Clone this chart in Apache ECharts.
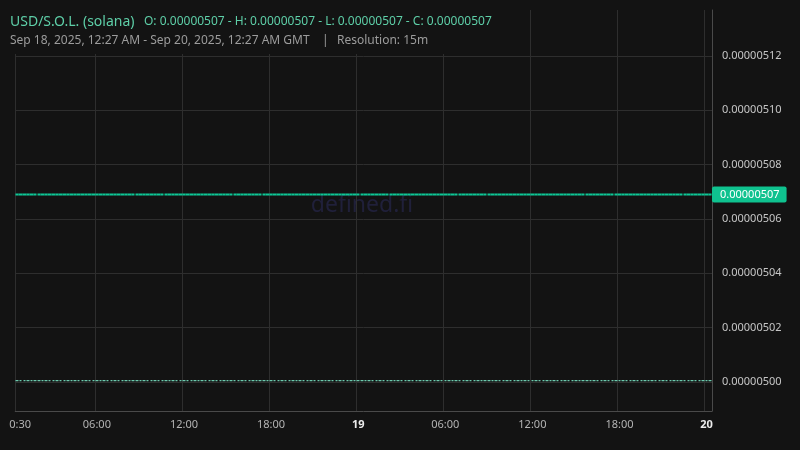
<!doctype html>
<html>
  <head>
    <meta charset="utf-8">
    <title>USD/S.O.L. (solana)</title>
    <script src="https://cdn.jsdelivr.net/npm/echarts@6/dist/echarts.min.js"></script>
    <style>
      html, body { margin: 0; padding: 0; background: #131313; }
      #chart { width: 800px; height: 450px; }
    </style>
  </head>
  <body>
    <div id="chart"></div>

    <script type="text/javascript">
      // prices are in units of 1e-8 (0.00000507 -> 507)
      var startTime = Date.UTC(2025, 8, 18, 0, 30);

      // 15m candles, Sep 18 00:30 -> Sep 20 00:15 (all flat)
      var priceRow = [506.9, 506.9, 506.9, 506.9, 506.9, 506.9, 506.9, 506.9,
                      506.9, 506.9, 506.9, 506.9, 506.9, 506.9, 506.9, 506.9];
      var lowRow = [500.05, 500.05, 500.05, 500.05, 500.05, 500.05, 500.05, 500.05,
                    500.05, 500.05, 500.05, 500.05, 500.05, 500.05, 500.05, 500.05];
      var priceCandles = [].concat(priceRow, priceRow, priceRow, priceRow, priceRow, priceRow,
                                   priceRow, priceRow, priceRow, priceRow, priceRow, priceRow);
      var lowCandles = [].concat(lowRow, lowRow, lowRow, lowRow, lowRow, lowRow,
                                 lowRow, lowRow, lowRow, lowRow, lowRow, lowRow);
      var lastClose = 506.9;

      var tickIndex = [0, 22, 46, 70, 94, 118, 142, 166, 190];
      var tickLabels = ['00:30', '06:00', '12:00', '18:00', '19', '06:00', '12:00', '18:00', '20'];
      var dayLabels = ['19', '20'];

      var categories = [];
      for (var i = 0; i < priceCandles.length; i++) {
        categories.push(new Date(startTime + i * 15 * 60000).toISOString());
      }

      function toOhlc(arr) {
        return arr.map(function (v) { return [v, v, v, v]; });
      }

      function isTick(idx) { return tickIndex.indexOf(idx) >= 0; }

      var bg = '#131313';
      var up = '#0ec796';
      var low = '#6cc9ad';
      var font = 'Noto Sans';

      var myChart = echarts.init(document.getElementById('chart'));
      var option = {
        backgroundColor: bg,
        animation: false,
        textStyle: { fontFamily: font },
        grid: { left: 12, right: 88, top: 10, bottom: 39 },
        xAxis: {
          type: 'category',
          data: categories,
          boundaryGap: true,
          axisLine: { onZero: false, lineStyle: { color: '#4a4a4a', width: 1 } },
          axisTick: { show: false },
          axisLabel: {
            interval: function (idx) { return isTick(idx); },
            margin: 8,
            color: '#b4b4b4',
            fontSize: 11,
            formatter: function (v, idx) {
              var k = tickIndex.indexOf(idx);
              if (k < 0) return '';
              var t = tickLabels[k];
              return dayLabels.indexOf(t) >= 0 ? '{d|' + t + '}' : t;
            },
            rich: { d: { color: '#ececec', fontWeight: 'bold', fontSize: 11 } }
          },
          splitLine: {
            show: true,
            interval: function (idx) { return isTick(idx); },
            lineStyle: { color: '#2e2e2e', width: 1 }
          }
        },
        yAxis: {
          type: 'value',
          position: 'right',
          scale: true,
          min: 498.93,
          max: 513.69,
          splitNumber: 7,
          axisLine: { show: true, lineStyle: { color: '#4a4a4a', width: 1 } },
          axisTick: { show: false },
          axisLabel: {
            margin: 10,
            color: '#c6c6c6',
            fontSize: 11,
            showMinLabel: false,
            showMaxLabel: false,
            formatter: function (v) { return (v / 1e8).toFixed(8); }
          },
          splitLine: {
            show: true,
            showMinLine: false,
            showMaxLine: false,
            lineStyle: { color: '#2e2e2e', width: 1 }
          }
        },
        graphic: [
          { type: 'text', x: 362, y: 194, silent: true, z: 0,
            style: { text: 'defined.fi', fill: '#20203a', font: '23px "Noto Sans"', textAlign: 'center' } },
          { type: 'rect', shape: { x: 0, y: 0, width: 497, height: 54 }, style: { fill: bg }, z: 90 },
          { type: 'rect', shape: { x: 0, y: 412, width: 9, height: 30 }, style: { fill: bg }, z: 90 },
          { type: 'text', x: 10, y: 15, z: 100,
            style: { text: 'USD/S.O.L. (solana)', fill: '#5ecfa8', font: '14px "Noto Sans"' } },
          { type: 'text', x: 144, y: 16, z: 100,
            style: { text: 'O: 0.00000507 - H: 0.00000507 - L: 0.00000507 - C: 0.00000507', fill: '#5ecfa8', font: '12px "Noto Sans"' } },
          { type: 'text', x: 10, y: 35, z: 100,
            style: { text: 'Sep 18, 2025, 12:27 AM - Sep 20, 2025, 12:27 AM GMT', fill: '#9c9c9c', font: '12px "Noto Sans"' } },
          { type: 'text', x: 322, y: 35, z: 100,
            style: { text: '|', fill: '#9c9c9c', font: '12px "Noto Sans"' } },
          { type: 'text', x: 337, y: 35, z: 100,
            style: { text: 'Resolution: 15m', fill: '#9c9c9c', font: '12px "Noto Sans"' } }
        ],
        series: [
          {
            name: 'low',
            type: 'candlestick',
            data: toOhlc(lowCandles),
            barWidth: '80%',
            itemStyle: {
              color: low, color0: low, borderColor: low, borderColor0: low,
              borderColorDoji: low, borderWidth: 1.3
            }
          },
          {
            name: 'USD/S.O.L.',
            type: 'candlestick',
            data: toOhlc(priceCandles),
            barWidth: '112%',
            itemStyle: {
              color: up, color0: up, borderColor: up, borderColor0: up,
              borderColorDoji: up, borderWidth: 2
            },
            markLine: {
              silent: true,
              symbol: ['none', 'none'],
              lineStyle: { color: 'rgba(0,0,0,0)', width: 0 },
              data: [{ yAxis: lastClose }],
              label: {
                show: true,
                position: 'end',
                distance: 0,
                formatter: '0.00000507',
                color: '#ffffff',
                fontSize: 11,
                backgroundColor: '#0fc28f',
                borderRadius: 2,
                padding: [3, 7, 2, 8]
              }
            }
          }
        ]
      };
      myChart.setOption(option);
    </script>
  </body>
</html>
